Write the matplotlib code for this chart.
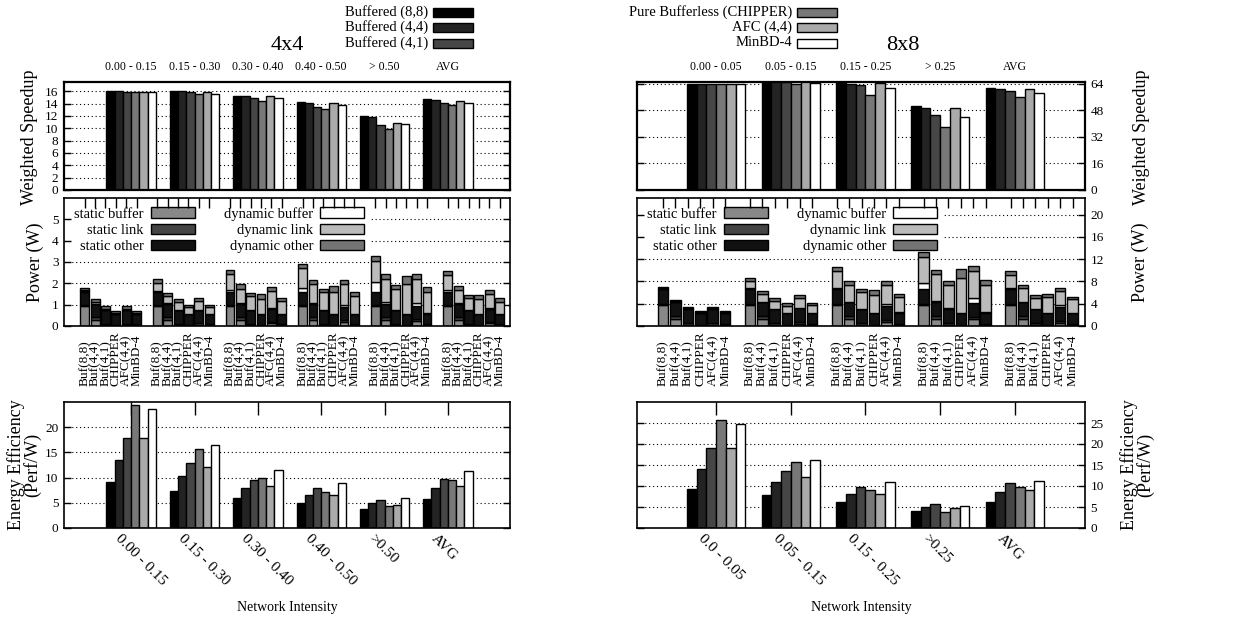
import matplotlib
matplotlib.use('Agg')
import matplotlib.pyplot as plt
import matplotlib.transforms as mtransforms
from matplotlib.patches import Patch, Rectangle
import numpy as np

plt.rcParams['font.family'] = ['Liberation Serif', 'DejaVu Serif']

configs = ['Buffered (8,8)', 'Buffered (4,4)', 'Buffered (4,1)',
           'Pure Bufferless (CHIPPER)', 'AFC (4,4)', 'MinBD-4']
short = ['Buf(8,8)', 'Buf(4,4)', 'Buf(4,1)', 'CHIPPER', 'AFC(4,4)', 'MinBD-4']
bar_colors = ['#000000', '#232323', '#464646', '#787878', '#aaaaaa', '#ffffff']

groups4_top = ['0.00 - 0.15', '0.15 - 0.30', '0.30 - 0.40', '0.40 - 0.50', '> 0.50', 'AVG']
groups4_bot = ['0.00 - 0.15', '0.15 - 0.30', '0.30 - 0.40', '0.40 - 0.50', '>0.50', 'AVG']
groups8_top = ['0.00 - 0.05', '0.05 - 0.15', '0.15 - 0.25', '> 0.25', 'AVG']
groups8_bot = ['0.0 - 0.05', '0.05 - 0.15', '0.15 - 0.25', '>0.25', 'AVG']

# rows = configs, columns = intensity groups
speedup4 = [[16.0, 16.0, 15.3, 14.3, 12.0, 14.7],
            [16.0, 16.0, 15.2, 14.1, 11.8, 14.6],
            [15.95, 15.8, 14.9, 13.5, 10.5, 14.1],
            [15.95, 15.5, 14.5, 13.1, 9.9, 13.8],
            [15.95, 15.9, 15.2, 14.1, 10.9, 14.4],
            [15.9, 15.6, 14.9, 13.7, 10.7, 14.1]]
speedup8 = [[63.8, 65.5, 65.0, 50.4, 61.4],
            [63.8, 65.5, 64.0, 49.6, 61.0],
            [63.8, 65.3, 63.0, 45.0, 59.6],
            [63.8, 63.6, 57.4, 38.0, 56.0],
            [63.8, 65.6, 64.4, 49.4, 61.0],
            [63.7, 64.6, 61.6, 44.0, 58.6]]

energy4 = [[9.05, 7.4, 5.9, 4.9, 3.7, 5.8],
           [13.4, 10.3, 7.9, 6.6, 4.9, 7.9],
           [17.9, 12.9, 9.6, 7.9, 5.6, 9.7],
           [24.4, 15.7, 10.0, 7.2, 4.3, 9.5],
           [17.9, 12.1, 8.3, 6.6, 4.5, 8.4],
           [23.7, 16.4, 11.5, 8.9, 5.9, 11.3]]
energy8 = [[9.4, 7.8, 6.3, 4.0, 6.3],
           [14.0, 10.9, 8.2, 5.0, 8.6],
           [19.0, 13.5, 9.7, 5.8, 10.6],
           [25.8, 15.8, 9.0, 3.7, 9.7],
           [19.0, 12.2, 8.2, 4.8, 9.1],
           [24.8, 16.3, 10.9, 5.3, 11.3]]

power_names = ['static buffer', 'static link', 'static other',
               'dynamic buffer', 'dynamic link', 'dynamic other']
power_colors = ['#888888', '#444444', '#111111', '#ffffff', '#bbbbbb', '#747474']

p4_sbuf = [[0.92, 0.92, 0.92, 0.92, 0.92, 0.92],
           [0.30, 0.30, 0.30, 0.30, 0.30, 0.30],
           [0.05, 0.05, 0.05, 0.05, 0.05, 0.05],
           [0.00, 0.00, 0.00, 0.00, 0.00, 0.00],
           [0.03, 0.05, 0.12, 0.20, 0.25, 0.12],
           [0.02, 0.02, 0.02, 0.02, 0.02, 0.02]]
p4_slink = [[0.06, 0.06, 0.06, 0.06, 0.06, 0.06],
            [0.12, 0.12, 0.12, 0.12, 0.12, 0.12],
            [0.06, 0.06, 0.06, 0.06, 0.06, 0.06],
            [0.06, 0.06, 0.06, 0.06, 0.06, 0.06],
            [0.08, 0.08, 0.08, 0.08, 0.08, 0.08],
            [0.06, 0.06, 0.06, 0.06, 0.06, 0.06]]
p4_sother = [[0.62, 0.62, 0.62, 0.62, 0.62, 0.62],
             [0.62, 0.62, 0.62, 0.62, 0.62, 0.62],
             [0.62, 0.62, 0.62, 0.62, 0.62, 0.62],
             [0.48, 0.48, 0.48, 0.48, 0.48, 0.48],
             [0.62, 0.62, 0.62, 0.62, 0.62, 0.62],
             [0.48, 0.48, 0.48, 0.48, 0.48, 0.48]]
p4_dbuf = [[0.03, 0.05, 0.10, 0.20, 0.45, 0.10],
           [0.01, 0.02, 0.04, 0.05, 0.08, 0.04],
           [0.01, 0.01, 0.02, 0.03, 0.04, 0.02],
           [0.00, 0.00, 0.00, 0.00, 0.00, 0.00],
           [0.00, 0.01, 0.03, 0.08, 0.15, 0.04],
           [0.01, 0.01, 0.02, 0.02, 0.03, 0.02]]
p4_dlink = [[0.07, 0.38, 0.72, 0.92, 1.00, 0.68],
            [0.08, 0.35, 0.67, 0.88, 1.08, 0.60],
            [0.08, 0.38, 0.66, 0.82, 0.98, 0.58],
            [0.06, 0.34, 0.74, 1.05, 1.42, 0.72],
            [0.09, 0.42, 0.80, 0.97, 1.10, 0.66],
            [0.05, 0.32, 0.60, 0.82, 1.02, 0.56]]
p4_dother = [[0.10, 0.16, 0.19, 0.20, 0.25, 0.18],
             [0.12, 0.15, 0.20, 0.20, 0.22, 0.18],
             [0.10, 0.15, 0.15, 0.15, 0.15, 0.14],
             [0.09, 0.12, 0.20, 0.27, 0.40, 0.21],
             [0.10, 0.15, 0.18, 0.22, 0.22, 0.18],
             [0.08, 0.11, 0.15, 0.18, 0.22, 0.16]]

p8_sbuf = [[3.7, 3.7, 3.7, 3.7, 3.7],
           [1.3, 1.3, 1.3, 1.3, 1.3],
           [0.25, 0.25, 0.25, 0.25, 0.25],
           [0.0, 0.0, 0.0, 0.0, 0.0],
           [0.15, 0.3, 0.8, 1.2, 0.6],
           [0.1, 0.1, 0.1, 0.1, 0.1]]
p8_slink = [[0.3, 0.3, 0.3, 0.3, 0.3],
            [0.45, 0.45, 0.45, 0.45, 0.45],
            [0.3, 0.3, 0.3, 0.3, 0.3],
            [0.25, 0.25, 0.25, 0.25, 0.25],
            [0.35, 0.35, 0.35, 0.35, 0.35],
            [0.25, 0.25, 0.25, 0.25, 0.25]]
p8_sother = [[2.6, 2.6, 2.6, 2.6, 2.6],
             [2.5, 2.5, 2.5, 2.5, 2.5],
             [2.5, 2.5, 2.5, 2.5, 2.5],
             [2.0, 2.0, 2.0, 2.0, 2.0],
             [2.5, 2.5, 2.5, 2.5, 2.5],
             [2.0, 2.0, 2.0, 2.0, 2.0]]
p8_dbuf = [[0.1, 0.2, 0.3, 1.2, 0.3],
           [0.05, 0.1, 0.15, 0.3, 0.15],
           [0.02, 0.05, 0.08, 0.12, 0.06],
           [0.0, 0.0, 0.0, 0.0, 0.0],
           [0.0, 0.05, 0.3, 1.0, 0.3],
           [0.02, 0.05, 0.08, 0.12, 0.06]]
p8_dlink = [[0.1, 1.3, 3.0, 4.6, 2.3],
            [0.15, 1.4, 3.0, 4.8, 2.4],
            [0.18, 1.45, 3.0, 4.25, 2.0],
            [0.2, 1.4, 3.4, 6.4, 2.9],
            [0.22, 1.8, 3.45, 4.8, 2.6],
            [0.13, 1.3, 2.8, 4.95, 2.4]]
p8_dother = [[0.2, 0.5, 0.7, 0.9, 0.6],
             [0.25, 0.45, 0.6, 0.75, 0.5],
             [0.25, 0.45, 0.57, 0.68, 0.49],
             [0.25, 0.45, 0.75, 1.65, 0.65],
             [0.28, 0.5, 0.7, 0.85, 0.55],
             [0.2, 0.4, 0.57, 0.88, 0.49]]

W, H = 1256, 618
fig = plt.figure(figsize=(W / 100, H / 100), dpi=100)
TICK = 9.5
BW = 0.13


def px_axes(x0, y0, x1, y1):
    return fig.add_axes([x0 / W, 1 - y1 / H, (x1 - x0) / W, (y1 - y0) / H])


def dotted(ax, levels):
    for v in levels:
        ax.axhline(v, color='black', lw=0.8, ls=(0, (1, 2.5)), zorder=0.5)


def yaxis(ax, ticks, side, lim):
    ax.set_ylim(0, lim)
    ax.set_yticks(ticks)
    ax.tick_params(axis='y', direction='in', left=True, right=True,
                   labelleft=(side == 'left'), labelright=(side == 'right'),
                   length=5, width=1, labelsize=TICK, pad=4)


def clustered(ax, data, xlim):
    n = len(data[0])
    x = np.arange(n)
    for i, vals in enumerate(data):
        ax.bar(x + (i - 2.5) * BW, vals, BW, color=bar_colors[i],
               edgecolor='black', lw=1.0, zorder=2)
    ax.set_xlim(*xlim)
    return x


def speedup_panel(ax, data, xlim, labels, ticks, lim, grid, side):
    x = clustered(ax, data, xlim)
    dotted(ax, grid)
    yaxis(ax, ticks, side, lim)
    ax.set_xticks(x)
    ax.set_xticklabels(labels)
    ax.tick_params(axis='x', top=False, bottom=False, labeltop=True,
                   labelbottom=False, labelsize=8.5, pad=3)
    for s in ax.spines.values():
        s.set_linewidth(1.6)


def energy_panel(ax, data, xlim, labels, ticks, lim, grid, side):
    x = clustered(ax, data, xlim)
    dotted(ax, grid)
    yaxis(ax, ticks, side, lim)
    ax.set_xticks(x)
    ax.tick_params(axis='x', top=True, bottom=False, labelbottom=False,
                   direction='in', length=9, width=1)
    tr = mtransforms.blended_transform_factory(ax.transData, ax.transAxes)
    for xi, lab in zip(x, labels):
        ax.text(xi - 0.15, -0.035, lab, transform=tr, rotation=-45,
                rotation_mode='anchor', ha='left', va='top', fontsize=11)
    for s in ax.spines.values():
        s.set_linewidth(1.2)


def power_panel(ax, comps, xlim, ticks, lim, grid, side):
    n = len(comps[0][0])
    xpos = np.array([[g * 7 + b for g in range(n)] for b in range(6)], dtype=float)
    bottom = np.zeros((6, n))
    for k, comp in enumerate(comps):
        vals = np.array(comp)
        ax.bar(xpos.ravel(), vals.ravel(), 0.85, bottom=bottom.ravel(),
               color=power_colors[k], edgecolor='black', lw=1.0, zorder=2)
        bottom += vals
    dotted(ax, grid)
    yaxis(ax, ticks, side, lim)
    ax.set_xlim(*xlim)
    ax.set_xticks(np.sort(xpos.ravel()))
    ax.tick_params(axis='x', top=True, bottom=False, labelbottom=False,
                   direction='in', length=7, width=1)
    tr = mtransforms.blended_transform_factory(ax.transData, ax.transAxes)
    for b in range(6):
        for g in range(n):
            ax.text(xpos[b, g], -0.47, short[b], transform=tr, rotation=90,
                    ha='center', va='bottom', fontsize=9.5)
    handles = [Patch(facecolor=c, edgecolor='black', lw=1.0) for c in power_colors]
    leg = ax.legend(handles, power_names, ncol=2, markerfirst=False,
                    loc='upper left', bbox_to_anchor=(0.013, 0.965), borderaxespad=0.0,
                    frameon=True, fancybox=False, framealpha=1.0,
                    facecolor='white', edgecolor='white', fontsize=10.5,
                    handlelength=3.0, handleheight=0.7, labelspacing=0.2,
                    columnspacing=2.0, handletextpad=0.5, borderpad=0.3)
    # above the grid, below the tick marks
    leg.set_zorder(1.2)
    for s in ax.spines.values():
        s.set_linewidth(1.2)


# 4x4 column
ax = px_axes(64, 82, 510, 190)
speedup_panel(ax, speedup4, (-1.06, 5.98), groups4_top, range(0, 17, 2), 17.5,
              range(2, 17, 2), 'left')
ax = px_axes(64, 198, 510, 326)
power_panel(ax, [p4_sbuf, p4_slink, p4_sother, p4_dbuf, p4_dlink, p4_dother],
            (-2.0, 41.0), range(0, 6), 6, range(1, 6), 'left')
ax = px_axes(64, 402, 510, 528)
energy_panel(ax, energy4, (-1.06, 5.98), groups4_bot, range(0, 21, 5), 25,
             range(5, 21, 5), 'left')

# 8x8 column
ax = px_axes(637, 82, 1085, 190)
speedup_panel(ax, speedup8, (-1.06, 4.94), groups8_top, range(0, 65, 16), 65,
              range(16, 65, 16), 'right')
ax = px_axes(637, 198, 1085, 326)
power_panel(ax, [p8_sbuf, p8_slink, p8_sother, p8_dbuf, p8_dlink, p8_dother],
            (-2.1, 34.0), range(0, 21, 4), 23, range(4, 21, 4), 'right')
ax = px_axes(637, 402, 1085, 528)
energy_panel(ax, energy8, (-1.06, 4.94), groups8_bot, range(0, 26, 5), 30,
             range(5, 26, 5), 'right')


def ftext(x, y, s, **kw):
    fig.text(x / W, 1 - y / H, s, **kw)


ylab = dict(rotation=90, ha='center', va='center', fontsize=13, linespacing=0.9)
ftext(30, 137, 'Weighted Speedup', **ylab)
ftext(35, 262, 'Power (W)', **ylab)
ftext(24, 465, 'Energy Efficiency\n(Perf/W)', **ylab)
ftext(1142, 137, 'Weighted Speedup', **ylab)
ftext(1140, 262, 'Power (W)', **ylab)
ftext(1137, 465, 'Energy Efficiency\n(Perf/W)', **ylab)
ftext(287, 607, 'Network Intensity', ha='center', va='center', fontsize=10)
ftext(861, 607, 'Network Intensity', ha='center', va='center', fontsize=10)
ftext(287, 46, '4x4', ha='center', va='center', fontsize=16)
ftext(903, 46, '8x8', ha='center', va='center', fontsize=16)

# top legend
rows_y = [12, 27.5, 43]
for i, name in enumerate(configs):
    col, row = divmod(i, 3)
    x_sw = 433 if col == 0 else 797
    ftext(x_sw - 5, rows_y[row], name, ha='right', va='center', fontsize=10.5)
    fig.patches.append(Rectangle((x_sw / W, 1 - (rows_y[row] + 4.5) / H), 40 / W, 9 / H,
                                 transform=fig.transFigure, facecolor=bar_colors[i],
                                 edgecolor='black', lw=1.0))

fig.savefig('out.png', dpi=100)
